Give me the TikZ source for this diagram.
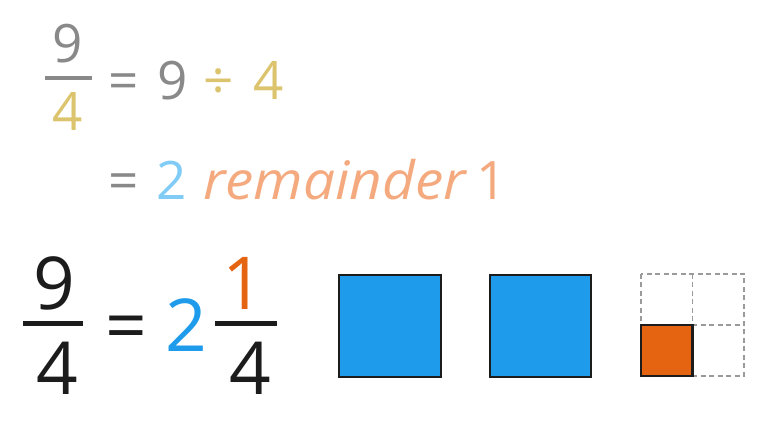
\documentclass[tikz,border=0pt]{standalone}
\usepackage{fontspec}
\setmainfont{Open Sans}
\definecolor{tgray}{HTML}{898989}
\definecolor{tgold}{HTML}{DCC46E}
\definecolor{tlblue}{HTML}{80CCF6}
\definecolor{tsalmon}{HTML}{F4AA7E}
\definecolor{tblack}{HTML}{1C1C1C}
\definecolor{tblue}{HTML}{1E9BEA}
\definecolor{torange}{HTML}{E56412}
\definecolor{tdash}{HTML}{9A9A9A}
\tikzset{
  big/.style={inner sep=0pt, anchor=base, font=\fontsize{53}{60}\selectfont},
  huge/.style={inner sep=0pt, anchor=base, font=\fontsize{73}{80}\selectfont},
  bar/.style={line width=4pt},
  hugebar/.style={line width=5pt, tblack},
  fullsq/.style={draw=tblack, line width=1.8pt, fill=tblue},
  partsq/.style={draw=tblack, line width=2.4pt, fill=torange},
  gridline/.style={draw=tdash, line width=1.8pt, dash pattern=on 5pt off 3.5pt}
}
\begin{document}
\begin{tikzpicture}[x=1pt,y=1pt]
\useasboundingbox (0,0) rectangle (764,426);
% line 1
\node[big, tgray] (n9a) at (68,363) {9};
\draw[bar, tgray] (45,348) coordinate (b1l) -- (92,348) coordinate (b1r);
\node[big, tgold] (d4a) at (68,295) {4};
\node[big, tgray] (eq1) at (123.5,326) {=};
\node[big, tgray] (n9b) at (172.5,326) {9};
\node[big, tgold] (div) at (218.5,326) {÷};
\node[big, tgold] (d4b) at (268.5,326) {4};
% line 2
\node[big, tgray] (eq2) at (123.5,226) {=};
\node[big, tlblue] (q2) at (171.5,226) {2};
\node[big, tsalmon, anchor=base west, xscale=1.07, transform shape] (rem) at (203,226) {\itshape remainder};
\node[big, tsalmon] (r1) at (492,226) {1};
% bottom
\node[huge, tblack] (n9c) at (54,116) {9};
\draw[hugebar] (23,102) coordinate (b2l) -- (83,102) coordinate (b2r);
\node[huge, tblack] (d4c) at (57,31) {4};
\node[huge, tblack] (eq3) at (126.5,74) {=};
\node[huge, tblue] (w2) at (186.5,74) {2};
\node[huge, torange] (num1) at (243,116) {1};
\draw[hugebar] (215,102) coordinate (b3l) -- (277,102) coordinate (b3r);
\node[huge, tblack] (d4d) at (250,31) {4};
% squares
\draw[fullsq] (339,151) rectangle (441,49);
\draw[fullsq] (490,151) rectangle (591,49);
\draw[gridline] (641,152) rectangle (744,50);
\draw[gridline] (692.5,152) -- (692.5,50);
\draw[gridline] (641,101) -- (744,101);
\draw[partsq] (641,101) rectangle (692.5,50);
\end{tikzpicture}
\end{document}
